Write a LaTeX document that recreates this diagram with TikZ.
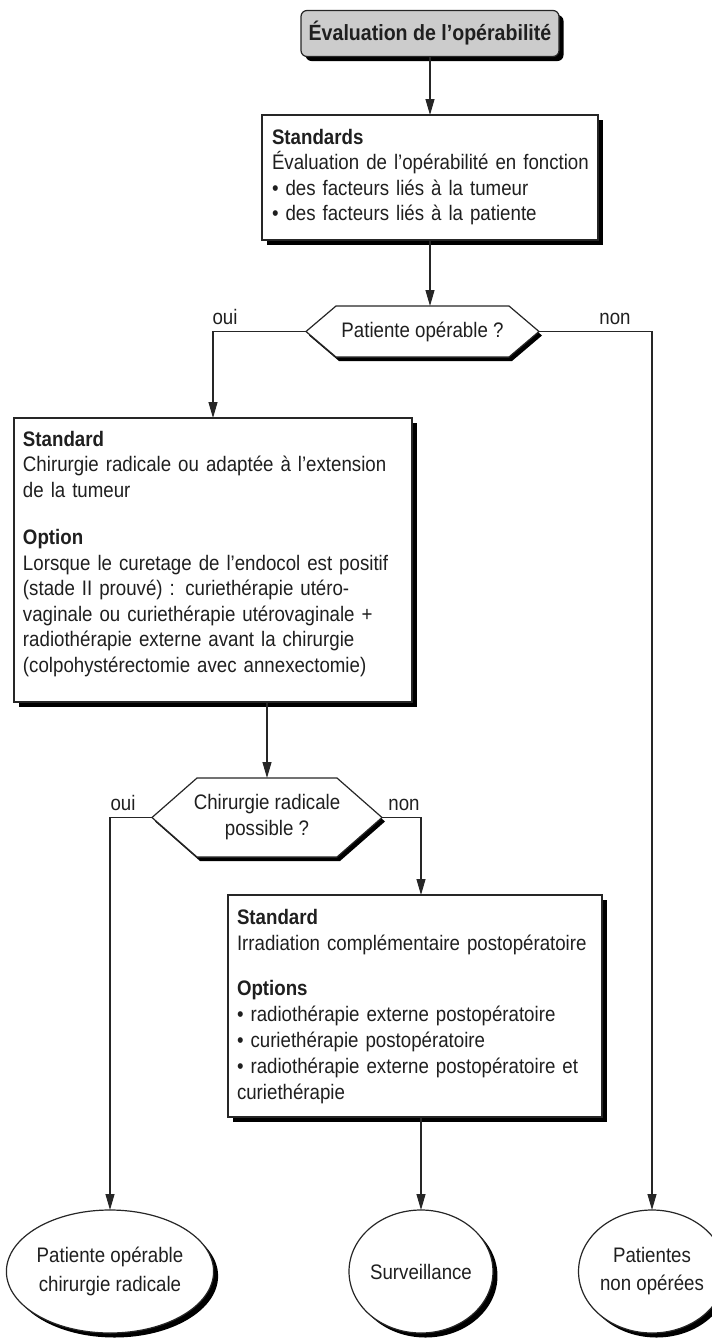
\documentclass[tikz,border=0pt]{standalone}
\usepackage{fontspec}
\setmainfont{Liberation Sans}[FakeStretch=0.89]
\usetikzlibrary{arrows.meta,calc,shadows,shapes.geometric,backgrounds}
\newcommand\myhex[4]{($(#1.west)+(#3,#4)$) -- ($(#1.north west)+(#2+#3,#4)$) -- ($(#1.north east)+(-#2+#3,#4)$) -- ($(#1.east)+(#3,#4)$) -- ($(#1.south east)+(-#2+#3,#4)$) -- ($(#1.south west)+(#2+#3,#4)$) -- cycle}
\hyphenpenalty=10000
\begin{document}
\begin{tikzpicture}[x=1pt,y=-1pt,
  every node/.style={inner sep=0pt, outer sep=0pt, text=black!88},
  f/.style={font=\fontsize{21}{#1}\selectfont},
  f/.default=25.5,
  frame/.style={draw=black!85, line width=1.2pt, fill=white},
  shad/.style={drop shadow={shadow xshift=#1, shadow yshift=-#1, fill=black, opacity=1}},
  shad/.default=5pt,
  arr/.style={draw=black!85, line width=1.1pt, -{Triangle[length=16pt,width=9pt]}},
  lbl/.style={f, anchor=base},
  txt/.style={f=#1, anchor=base west, align=left},
]
\useasboundingbox (0,0) rectangle (712,1342);

% title
\node[frame, rounded corners=6pt, fill=black!20, minimum width=258, minimum height=46, shad=4.5pt, font=\fontsize{22}{25}\selectfont\bfseries] (title) at (430,33.5) {Évaluation de l’opérabilité};

% Standards box
\node[frame, shad, minimum width=336, minimum height=125] (stdA) at (430,177.5) {};
\node[txt=25.5, text width=400] (stdAt) at (272,144) {\textbf{Standards}\\Évaluation de l’opérabilité en fonction\\• des facteurs liés à la tumeur\\• des facteurs liés à la patiente};

% hexagon 1
\node[f, minimum width=233, minimum height=51] (h1) at (422.5,331.5) {Patiente opérable ?};
\begin{scope}[on background layer]
\fill[black] \myhex{h1}{30}{3}{4};
\draw[frame] \myhex{h1}{30}{0}{0};
\end{scope}

% big box
\node[frame, shad, minimum width=398, minimum height=284] (big) at (213,560) {};
\node[txt=25.5, text width=375] (bigt) at (23,446) {\textbf{Standard}\\
\makebox[375pt][s]{Chirurgie radicale ou adaptée à l’extension}\\
de la tumeur\\[22pt]
\textbf{Option}\\
\makebox[375pt][s]{Lorsque le curetage de l’endocol est positif}\\
\makebox[375pt][s]{(stade II prouvé) : curiethérapie utéro-}\\
\makebox[375pt][s]{vaginale ou curiethérapie utérovaginale +}\\
\makebox[375pt][s]{radiothérapie externe avant la chirurgie}\\
(colpohystérectomie avec annexectomie)};

% hexagon 2
\node[f=26, align=center, minimum width=230, minimum height=79] (h2) at (267,817.5) {Chirurgie radicale\\possible ?};
\begin{scope}[on background layer]
\fill[black] \myhex{h2}{45}{3}{4};
\draw[frame] \myhex{h2}{45}{0}{0};
\end{scope}

% box 3
\node[frame, shad, minimum width=374, minimum height=222] (box3) at (415,1006) {};
\node[txt=26, text width=400] (box3t) at (237,924) {\textbf{Standard}\\
Irradiation complémentaire postopératoire\\[19pt]
\textbf{Options}\\
• radiothérapie externe postopératoire\\
• curiethérapie postopératoire\\
• radiothérapie externe postopératoire et\\
curiethérapie};

% ellipses
\node[frame, ellipse, shad=4.5pt, minimum width=194, minimum height=123, f=29, align=center] (E1) at (110,1271.5) {Patiente opérable\\chirurgie radicale};
\node[frame, ellipse, shad=4.5pt, minimum width=128, minimum height=123, f, align=center] (E2) at (421,1271.5) {Surveillance};
\node[frame, ellipse, shad=4.5pt, minimum width=126, minimum height=123, f=28, align=center] (E3) at (652,1271.5) {Patientes\\non opérées};

% labels
\node[lbl] (oui1) at (225,324) {oui};
\node[lbl] (non1) at (615,324) {non};
\node[lbl] (oui2) at (123,810) {oui};
\node[lbl] (non2) at (404,810) {non};

% connectors
\draw[arr] (title) -- (stdA);
\draw[arr] (stdA.south) -- (stdA.south |- h1.north);
\draw[arr] (h1.west) -| (big.north);
\draw[arr] (h1.east) -| (E3.north);
\draw[arr] (h2.north |- big.south) -- (h2.north);
\draw[arr] (h2.west) -| (E1.north);
\draw[arr] (h2.east) -| (E2.north |- box3.north);
\draw[arr] (E2.north |- box3.south) -- (E2.north);
\end{tikzpicture}
\end{document}
